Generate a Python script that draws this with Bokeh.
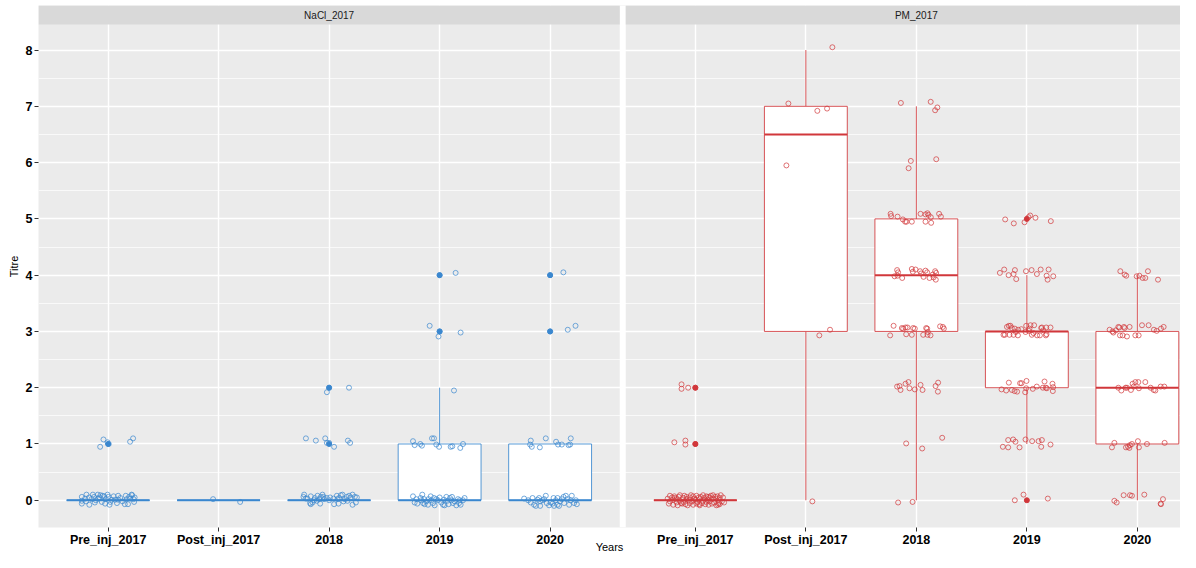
import numpy as np
from bokeh.plotting import figure
from bokeh.models import Range1d, FixedTicker
from bokeh.embed import file_html
from bokeh.resources import INLINE
from bokeh.core.properties import value

categories = ["Pre_inj_2017", "Post_inj_2017", "2018", "2019", "2020"]
panels = ["NaCl_2017", "PM_2017"]
panel_colors = ["#3A87CF", "#D1373B"]
y_ticks = [0, 1, 2, 3, 4, 5, 6, 7, 8]
y_minor = [0.5, 1.5, 2.5, 3.5, 4.5, 5.5, 6.5, 7.5]

# Jittered observations read from the picture:
# *_jx = horizontal jitter (category units), *_ty = plotted titre (value + small vertical jitter)
nacl_pre_jx = [-0.238, -0.238, -0.238, -0.208, -0.196, -0.172, -0.138, -0.127, -0.111, -0.093,
               -0.078, -0.069, -0.057, -0.036, -0.027, -0.005, 0.003, 0.013, 0.031, 0.064,
               0.091, 0.091, 0.151, 0.16, 0.169, 0.19, 0.212, 0.217, 0.23, 0.235,
               -0.2, -0.15, -0.12, -0.09, -0.05, -0.02, 0.02, 0.05, 0.08, 0.11,
               0.13, 0.18, 0.2, 0.24, -0.17,
               -0.072, -0.042, -0.005, 0.006, 0.199, 0.226]
nacl_pre_ty = [0.06, -0.01, -0.06, 0.03, 0.1, 0.05, 0.1, 0.06, 0.0, 0.1,
               0.05, 0.09, -0.03, 0.07, -0.06, 0.1, 0.06, -0.08, 0.01, 0.01,
               0.08, 0.01, -0.07, 0.08, 0.02, 0.06, 0.1, 0.09, 0.02, -0.03,
               -0.02, 0.02, -0.04, 0.03, 0.08, 0.02, -0.03, 0.07, -0.05, 0.04,
               -0.02, -0.07, 0.03, 0.05, -0.08,
               0.95, 1.08, 1.03, 1.0, 1.04, 1.1]

nacl_post_jx = [-0.05, 0.195]
nacl_post_ty = [0.02, -0.03]

nacl_2018_jx = [-0.226, -0.232, -0.211, -0.166, -0.172, -0.136, -0.129, -0.111, -0.105, -0.09,
                -0.081, -0.06, -0.051, -0.045, -0.021, 0.009, 0.04, 0.045, 0.07, 0.085,
                0.09, 0.106, 0.121, 0.13, 0.142, 0.16, 0.181, 0.196, 0.212, 0.212,
                0.233, 0.242, 0.251, -0.196, -0.15, -0.075, 0.0, 0.076, 0.166, -0.166,
                -0.21, -0.12, -0.035, -0.02, 0.0, 0.045, 0.17, 0.19,
                -0.02, 0.0, 0.18]
nacl_2018_ty = [0.1, 0.06, 0.03, 0.07, -0.05, 0.0, 0.04, -0.01, 0.08, 0.02,
                -0.06, 0.1, 0.06, 0.02, 0.04, 0.05, 0.03, -0.07, 0.08, -0.06,
                0.04, 0.09, 0.1, -0.02, 0.02, 0.06, 0.08, 0.05, 0.1, -0.08,
                0.06, -0.04, 0.05, 0.03, -0.04, 0.06, 0.0, 0.02, -0.01, -0.07,
                1.1, 1.06, 1.1, 1.02, 1.02, 0.95, 1.06, 1.02,
                1.92, 2.0, 2.0]

nacl_2019_jx = [-0.241, -0.226, -0.202, -0.172, -0.166, -0.157, -0.15, -0.141, -0.12, -0.105,
                -0.081, -0.075, -0.06, -0.051, -0.03, -0.015, 0.015, 0.031, 0.04, 0.061,
                0.07, 0.081, 0.094, 0.106, 0.121, 0.136, 0.166, 0.176, 0.19, 0.212,
                0.226, -0.136, -0.045, 0.0, 0.045, 0.151, -0.1, 0.112, 0.181, -0.211,
                -0.241, -0.226, -0.175, -0.16, -0.069, -0.051, -0.03, -0.005, 0.1, 0.115,
                0.187, 0.212,
                0.13,
                -0.09, -0.01, 0.0, 0.19,
                0.0, 0.145]
nacl_2019_ty = [0.07, -0.04, -0.06, 0.04, 0.0, 0.1, -0.05, 0.02, -0.02, -0.08,
                0.07, 0.0, -0.05, 0.04, 0.02, 0.0, -0.04, -0.08, 0.01, 0.06,
                -0.01, -0.07, 0.04, 0.0, -0.05, -0.02, 0.02, -0.05, -0.08, 0.0,
                0.04, -0.07, -0.09, 0.05, -0.09, -0.09, 0.02, 0.06, 0.0, 0.02,
                1.05, 0.98, 1.0, 0.97, 1.1, 1.1, 0.99, 0.95, 0.95, 0.96,
                0.93, 1.0,
                1.95,
                3.1, 2.91, 3.0, 2.98,
                4.0, 4.04]

nacl_2020_jx = [-0.235, -0.175, -0.159, -0.145, -0.129, -0.114, -0.1, -0.09, -0.069, -0.039,
                -0.03, -0.009, 0.006, 0.031, 0.036, 0.052, 0.067, 0.081, 0.09, 0.106,
                0.121, 0.142, 0.127, 0.187, 0.196, 0.217, 0.233, 0.242, -0.199, -0.054,
                0.022, 0.157, 0.172, -0.09, 0.067,
                -0.175, -0.181, -0.166, -0.093, -0.039, 0.054, 0.072, 0.106, 0.167, 0.181,
                0.187,
                0.0, 0.16, 0.23,
                0.0, 0.12]
nacl_2020_ty = [0.03, -0.04, 0.04, -0.08, -0.1, 0.01, 0.04, -0.02, 0.0, 0.08,
                -0.05, -0.09, -0.04, 0.04, -0.1, 0.0, -0.08, -0.1, -0.02, 0.02,
                0.06, 0.08, -0.05, 0.0, 0.08, -0.05, 0.0, -0.07, 0.0, 0.02,
                -0.06, 0.02, -0.08, -0.1, 0.04,
                1.06, 0.99, 0.95, 0.94, 1.1, 1.04, 0.99, 0.99, 0.98, 0.99,
                1.1,
                3.0, 3.03, 3.1,
                4.0, 4.05]

pm_pre_jx = [-0.25, -0.24, -0.23, -0.23, -0.21, -0.20, -0.20, -0.19, -0.17, -0.17,
             -0.16, -0.15, -0.14, -0.14, -0.12, -0.11, -0.11, -0.10, -0.09, -0.08,
             -0.08, -0.07, -0.06, -0.05, -0.05, -0.04, -0.03, -0.02, -0.02, -0.01,
             0.00, 0.01, 0.01, 0.02, 0.03, 0.04, 0.04, 0.05, 0.06, 0.07,
             0.07, 0.08, 0.09, 0.10, 0.10, 0.11, 0.12, 0.13, 0.13, 0.14,
             0.15, 0.16, 0.16, 0.17, 0.18, 0.19, 0.19, 0.20, 0.21, 0.22,
             0.22, 0.23, 0.24, 0.25, 0.26, -0.13, 0.035, 0.115, -0.185, 0.205,
             -0.19, -0.09, -0.09, 0.0,
             -0.125, -0.125, -0.065, 0.0]
pm_pre_ty = [0.03, -0.06, 0.08, -0.02, 0.05, -0.08, 0.01, 0.07, -0.04, 0.02,
             -0.09, 0.06, -0.01, 0.09, -0.06, 0.04, -0.03, 0.08, -0.07, 0.02,
             0.06, -0.09, 0.00, 0.05, -0.05, 0.09, -0.02, 0.07, -0.08, 0.03,
             0.01, -0.06, 0.08, -0.03, 0.05, -0.09, 0.02, 0.06, -0.05, 0.09,
             -0.01, 0.04, -0.07, 0.07, -0.03, 0.01, -0.08, 0.05, -0.02, 0.08,
             -0.06, 0.03, 0.09, -0.04, 0.06, -0.09, 0.02, 0.07, -0.05, 0.04,
             -0.07, 0.09, -0.02, 0.05, -0.04, -0.05, -0.07, 0.06, 0.04, -0.08,
             1.03, 1.06, 0.99, 1.0,
             2.06, 1.98, 2.0, 2.0]

pm_post_jx = [-0.158, 0.104, 0.192, -0.176, 0.24, 0.219, 0.122, 0.059]
pm_post_ty = [7.05, 6.92, 6.96, 5.95, 8.05, 3.03, 2.93, -0.02]

pm_2018_jx = [-0.165, -0.034,
              -0.092, 0.053, 0.234,
              -0.174, -0.152, -0.143, -0.098, -0.071, -0.062, -0.014, 0.038, 0.056, 0.174, 0.197, 0.195,
              -0.206, -0.237, -0.131, -0.119, -0.098, -0.08, -0.092, -0.041, -0.029, -0.014,
              0.062, 0.089, 0.098, 0.104, 0.101, 0.128, 0.215, 0.24, 0.249,
              -0.174, -0.165, -0.197, -0.17, -0.128, -0.041, -0.007, -0.032, 0.034, 0.043,
              0.065, 0.083, 0.098, 0.119, 0.156, 0.17, 0.179, 0.176, 0.149,
              -0.233, -0.228, -0.17, -0.122, -0.101, -0.089, -0.041, 0.038, 0.083, 0.101,
              0.11, 0.131, 0.083, 0.134, 0.206, 0.222,
              -0.07, -0.05, 0.18,
              -0.14, 0.13, 0.17, 0.19]
pm_2018_ty = [-0.04, -0.03,
              1.01, 0.92, 1.11,
              2.02, 2.03, 1.96, 2.07, 2.1, 1.99, 1.97, 2.05, 1.96, 2.03, 2.09, 1.93,
              3.1, 2.93, 3.06, 3.05, 3.07, 3.07, 2.95, 2.94, 3.06, 3.05,
              2.94, 3.06, 3.05, 2.99, 2.94, 2.93, 3.09, 3.08, 3.05,
              4.09, 4.05, 3.98, 3.99, 3.95, 4.11, 4.1, 4.06, 4.07, 4.03,
              3.97, 4.08, 4.05, 3.95, 3.96, 4.07, 4.04, 3.92, 4.01,
              5.09, 5.05, 5.04, 4.99, 4.95, 4.95, 4.95, 5.09, 5.08, 5.1,
              5.07, 5.03, 4.95, 4.93, 5.09, 5.04,
              5.9, 6.03, 6.06,
              7.06, 7.08, 6.93, 6.98]

pm_2019_jx = [-0.109, -0.03, 0.19,
              -0.217, -0.169, -0.169, -0.124, -0.103, -0.066, -0.012, 0.048, 0.106, 0.136, 0.13, 0.214,
              -0.229, -0.187, -0.163, -0.136, -0.111, -0.088, -0.061, -0.003, -0.006, -0.015,
              0.054, 0.09, 0.145, 0.16, 0.172, 0.181, 0.232, 0.235, 0.238, -0.048,
              -0.163, -0.148, -0.136, -0.109, -0.079, -0.1, -0.12, -0.157, -0.199, -0.211,
              -0.081, -0.006, 0.033, 0.066, 0.024, 0.018, -0.012, 0.045, 0.093, 0.118,
              0.136, 0.175, 0.214, 0.178, 0.172, 0.13, -0.05, 0.06, 0.15, -0.18,
              -0.244, -0.205, -0.165, -0.12, -0.096, -0.108, -0.008, 0.043, 0.091, 0.125,
              0.179, 0.188, 0.197, 0.239,
              -0.196, -0.118, -0.021, 0.015, 0.03, 0.078, 0.217]
pm_2019_ty = [0.0, 0.1, 0.03,
              0.95, 0.94, 1.07, 1.08, 1.04, 0.94, 1.08, 1.05, 1.05, 1.07, 0.95, 0.99,
              1.97, 1.95, 2.09, 1.96, 1.94, 1.93, 2.08, 2.12, 1.99, 1.92,
              1.98, 2.02, 2.0, 2.11, 2.0, 1.99, 2.07, 1.94, 2.01, 2.08,
              3.1, 3.1, 3.06, 3.05, 3.03, 2.99, 2.94, 2.94, 2.94, 2.94,
              2.93, 3.1, 3.11, 3.11, 3.05, 3.01, 2.99, 2.94, 2.93, 2.93,
              3.07, 3.07, 3.07, 2.95, 2.93, 3.06, 3.04, 2.97, 3.02, 3.08,
              4.04, 4.1, 4.0, 4.02, 3.93, 4.09, 4.07, 4.09, 4.02, 4.1,
              3.99, 3.92, 4.1, 3.98,
              4.99, 4.92, 4.94, 5.03, 5.06, 5.02, 4.96]

pm_2020_jx = [-0.208, -0.187, -0.124, -0.067, -0.049, 0.063, 0.211, 0.232, 0.214,
              -0.23, -0.208, -0.103, -0.085, -0.067, -0.049, 0.005, 0.014, 0.087, 0.247, -0.072,
              -0.172, -0.145, -0.106, -0.094, -0.058, -0.043, -0.018, 0.009, 0.014, 0.072,
              0.12, 0.148, 0.163, 0.211, 0.244, -0.033,
              -0.251, -0.217, -0.172, -0.163, -0.121, -0.115, -0.157, -0.133, -0.094, -0.07,
              -0.018, 0.012, 0.042, 0.102, 0.15, 0.175, 0.214, 0.238, -0.224, -0.194,
              -0.154, -0.115, -0.1, -0.006, 0.018, 0.048, 0.072, 0.096, 0.187]
pm_2020_ty = [-0.01, -0.04, 0.09, 0.09, 0.08, 0.1, -0.06, 0.02, -0.07,
              0.94, 1.02, 0.94, 0.95, 0.98, 1.0, 1.05, 0.94, 1.0, 1.02, 0.93,
              2.0, 1.95, 2.0, 2.0, 1.96, 2.07, 2.1, 2.1, 1.99, 2.1,
              2.0, 1.96, 1.95, 2.02, 2.02, 2.02,
              3.03, 2.98, 3.08, 3.07, 3.08, 3.06, 2.93, 2.93, 2.91, 3.08,
              2.93, 2.93, 3.11, 3.11, 3.03, 3.01, 3.05, 3.08, 3.0, 3.02,
              4.07, 4.01, 3.99, 3.98, 3.99, 3.95, 3.95, 4.07, 3.92]

groups = [
    (0, 0, nacl_pre_jx, nacl_pre_ty), (0, 1, nacl_post_jx, nacl_post_ty),
    (0, 2, nacl_2018_jx, nacl_2018_ty), (0, 3, nacl_2019_jx, nacl_2019_ty),
    (0, 4, nacl_2020_jx, nacl_2020_ty),
    (1, 0, pm_pre_jx, pm_pre_ty), (1, 1, pm_post_jx, pm_post_ty),
    (1, 2, pm_2018_jx, pm_2018_ty), (1, 3, pm_2019_jx, pm_2019_ty),
    (1, 4, pm_2020_jx, pm_2020_ty),
]

# ---- layout (pixels -> data units) ----
LEFT_PX, TOP_PX = 38, 5
FRAME_W, FRAME_H = 1142, 522
STRIP_PX = 19
PX_PER_CAT = 110.5
EXPAND = 0.63
GAP_PX = 6
Y_LO, Y_HI = -0.484, 8.454
BOX_HALF = 0.375

panel_span = len(categories) - 1 + 2 * EXPAND
gap = GAP_PX / PX_PER_CAT
offsets = [i * (panel_span + gap) for i in range(len(panels))]
panel_left = [1 - EXPAND + o for o in offsets]
panel_right = [l + panel_span for l in panel_left]
x_lo = 1 - EXPAND
x_hi = x_lo + FRAME_W / PX_PER_CAT
upp = (Y_HI - Y_LO) / (FRAME_H - STRIP_PX)
y_top = Y_HI + STRIP_PX * upp

FONT = "Liberation Sans"

p = figure(frame_width=FRAME_W, frame_height=FRAME_H,
           x_range=Range1d(x_lo, x_hi), y_range=Range1d(Y_LO, y_top),
           output_backend="svg", toolbar_location=None,
           min_border_left=LEFT_PX, min_border_right=0, min_border_top=TOP_PX,
           min_border_bottom=0,
           background_fill_color="#EBEBEB", border_fill_color="white",
           outline_line_color=None)

tick_pos = [round(o + k + 1, 4) for o in offsets for k in range(len(categories))]
tick_lbl = categories * len(panels)
xt = FixedTicker(ticks=tick_pos)
yt = FixedTicker(ticks=y_ticks, minor_ticks=y_minor)
p.xaxis.ticker = xt
p.xaxis.major_label_overrides = {pos: lab for pos, lab in zip(tick_pos, tick_lbl)}
p.yaxis.ticker = yt
p.xgrid.ticker = xt
p.ygrid.ticker = yt
p.grid.grid_line_color = "white"
p.grid.grid_line_width = 1.4
p.ygrid.minor_grid_line_color = "white"
p.ygrid.minor_grid_line_width = 0.7

for ax in (p.xaxis[0], p.yaxis[0]):
    ax.axis_line_color = None
    ax.major_tick_line_color = "#333333"
    ax.major_tick_out = 4
    ax.major_tick_in = 0
    ax.minor_tick_out = 0
    ax.minor_tick_in = 0
    ax.major_label_text_font = FONT
    ax.major_label_text_font_style = "bold"
    ax.major_label_text_font_size = "12.5px"
    ax.major_label_text_color = "black"
    ax.axis_label_text_font = FONT
    ax.axis_label_text_font_style = "normal"
    ax.axis_label_text_font_size = "11px"
    ax.axis_label_text_color = "black"
p.xaxis.major_label_standoff = 1
p.xaxis.axis_label_standoff = -9
p.yaxis.major_label_standoff = 2
p.yaxis.axis_label_standoff = 3
p.xaxis.axis_label = "Years"
p.yaxis.axis_label = "Titre"

# panel gap and strips
p.quad(left=[panel_right[0]], right=[panel_left[1]], bottom=[Y_LO], top=[y_top],
       fill_color="white", line_color=None)
p.quad(left=panel_left, right=panel_right, bottom=[Y_HI] * len(panels), top=[y_top] * len(panels),
       fill_color="#D9D9D9", line_color=None)
p.text(x=[(l + r) / 2 for l, r in zip(panel_left, panel_right)],
       y=[Y_HI + STRIP_PX * upp / 2] * len(panels), text=panels,
       text_font=value(FONT), text_font_size="10px", text_color="#1A1A1A",
       text_align="center", text_baseline="middle")


def box_stats(vals):
    v = np.sort(np.asarray(vals, dtype=float))
    q1, med, q3 = np.percentile(v, [25, 50, 75])
    iqr = q3 - q1
    lo_lim, hi_lim = q1 - 1.5 * iqr, q3 + 1.5 * iqr
    inside = v[(v >= lo_lim) & (v <= hi_lim)]
    out = np.unique(v[(v < lo_lim) | (v > hi_lim)])
    return q1, med, q3, inside.min(), inside.max(), out


for pi, ci, jx, ty in groups:
    col = panel_colors[pi]
    xc = offsets[pi] + ci + 1
    titre = np.rint(np.asarray(ty))
    q1, med, q3, lo, hi, out = box_stats(titre)
    p.segment(x0=[xc, xc], y0=[q3, q1], x1=[xc, xc], y1=[hi, lo],
              line_color=col, line_width=1, line_alpha=0.85)
    p.quad(left=[xc - BOX_HALF], right=[xc + BOX_HALF], bottom=[q1], top=[q3],
           fill_color="white", line_color=col, line_width=1, line_alpha=0.85)
    p.segment(x0=[xc - BOX_HALF], y0=[med], x1=[xc + BOX_HALF], y1=[med],
              line_color=col, line_width=2)
    if len(out):
        p.scatter(x=[xc] * len(out), y=list(out), marker="circle", size=5,
                  fill_color=col, line_color=col)

for pi, ci, jx, ty in groups:
    col = panel_colors[pi]
    xc = offsets[pi] + ci + 1
    p.scatter(x=[xc + d for d in jx], y=ty, marker="circle", size=5,
              fill_color=None, line_color=col, line_alpha=0.7, line_width=1)

open("out.html", "w").write(file_html(p, INLINE))
